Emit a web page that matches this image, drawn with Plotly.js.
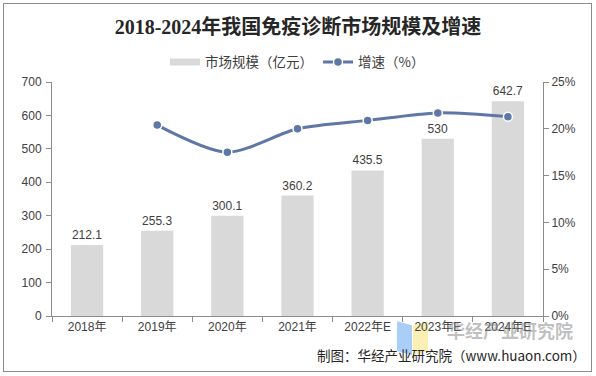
<!DOCTYPE html>
<html><head><meta charset="utf-8">
<script src="https://cdn.plot.ly/plotly-3.0.1.min.js"></script>
<style>
html,body{margin:0;padding:0;background:#fff;}
#wrap{position:relative;width:596px;height:376px;}
#chart{width:596px;height:376px;}
#frame{position:absolute;left:3px;top:3px;width:589px;height:369px;border:1px solid #8c8c8c;box-sizing:border-box;pointer-events:none;}
</style></head>
<body>
<div id="wrap"><div id="chart"></div><div id="frame"></div></div>
<script>
const categories = ["2018年","2019年","2020年","2021年","2022年E","2023年E","2024年E"];
const marketSize = [212.1, 255.3, 300.1, 360.2, 435.5, 530, 642.7];
const growthYears = ["2019年","2020年","2021年","2022年E","2023年E","2024年E"];
const growthRate = [20.4, 17.5, 20.0, 20.9, 21.7, 21.3];
const leftTicks = [0,100,200,300,400,500,600,700];
const rightTicks = [0,5,10,15,20,25];

const tickFont = {family:"Liberation Sans, Arial, Noto Sans CJK SC", size:12, color:"#404040"};
const barColor = "#d9d9d9";
const lineColor = "#5f77a6";

const bars = {
  type:"bar", name:"市场规模（亿元）", x:categories, y:marketSize,
  marker:{color:barColor}, showlegend:false, legendgroup:"a",
  text:marketSize.map(v=>String(v)), textposition:"outside", cliponaxis:false,
  textfont:{family:"Liberation Sans, Arial", size:12, color:"#404040"},
  hoverinfo:"none"
};
// legend-only entry so the bar key is drawn as a wide band like the reference
const barKey = {
  type:"scatter", mode:"lines", name:"市场规模（亿元）", x:[null], y:[null],
  line:{color:barColor, width:7}, legendgroup:"a", hoverinfo:"none"
};
const line = {
  type:"scatter", mode:"lines+markers", name:"增速（%）", x:growthYears, y:growthRate,
  yaxis:"y2", line:{color:lineColor, width:3, shape:"spline", smoothing:0.8},
  marker:{color:lineColor, size:9, line:{color:"#fff", width:1.5}},
  cliponaxis:false, hoverinfo:"none"
};

const layout = {
  width:596, height:376,
  margin:{l:52, r:53, t:82, b:60},
  paper_bgcolor:"#fff", plot_bgcolor:"#fff",
  title:{text:"<b>2018-2024年我国免疫诊断市场规模及增速</b>", x:0.5, xanchor:"center", y:0.928, yanchor:"middle",
    font:{family:"Liberation Serif, Noto Sans CJK SC", size:20, color:"#262626"}},
  showlegend:true,
  legend:{orientation:"h", x:0.5, xanchor:"center", y:1.085, yanchor:"middle",
    font:{family:"Noto Sans CJK SC, Liberation Sans", size:13.5, color:"#404040"}, itemwidth:30, traceorder:"normal"},
  bargap:0.54,
  xaxis:{type:"category", showline:true, linecolor:"#8c8c8c", linewidth:1, ticks:"outside", ticklen:5, tickcolor:"#8c8c8c",
    tickson:"boundaries", tickfont:tickFont, showgrid:false, zeroline:false, fixedrange:true},
  yaxis:{range:[0,700], tickvals:leftTicks, showline:true, linecolor:"#8c8c8c", ticks:"outside", ticklen:5, tickcolor:"#8c8c8c",
    tickfont:tickFont, showgrid:false, zeroline:false, ticklabelstandoff:2},
  yaxis2:{range:[0,25], tickvals:rightTicks, ticktext:rightTicks.map(v=>v+"%"), overlaying:"y", side:"right",
    showline:true, linecolor:"#8c8c8c", ticks:"outside", ticklen:5, tickcolor:"#8c8c8c",
    tickfont:tickFont, showgrid:false, zeroline:false},
  shapes:[
    {type:"path", xref:"paper", yref:"paper", layer:"below", line:{width:0}, fillcolor:"rgba(140,190,245,0.75)",
      path:"M0.7026,-0.022 L0.7332,-0.040 L0.7332,-0.167 L0.7026,-0.150 Z"},
    {type:"path", xref:"paper", yref:"paper", layer:"below", line:{width:0}, fillcolor:"rgba(250,235,160,0.8)",
      path:"M0.7352,-0.040 L0.7658,-0.022 L0.7658,-0.150 L0.7352,-0.167 Z"}
  ],
  annotations:[
    {text:"<b>华经产业研究院</b>", xref:"paper", yref:"paper", x:1.065, y:-0.058, xanchor:"right", yanchor:"middle", showarrow:false,
      font:{family:"Noto Sans CJK SC", size:18, color:"rgba(130,130,130,0.5)"}},
    {text:"制图：华经产业研究院（www.huaon.com）", xref:"paper", yref:"paper", x:1.0916, y:-0.167, xanchor:"right", yanchor:"middle", showarrow:false,
      font:{family:"Noto Sans CJK SC, Liberation Sans", size:13.5, color:"#262626"}}
  ]
};
Plotly.newPlot("chart", [barKey, bars, line], layout, {staticPlot:true});
</script>
</body></html>
